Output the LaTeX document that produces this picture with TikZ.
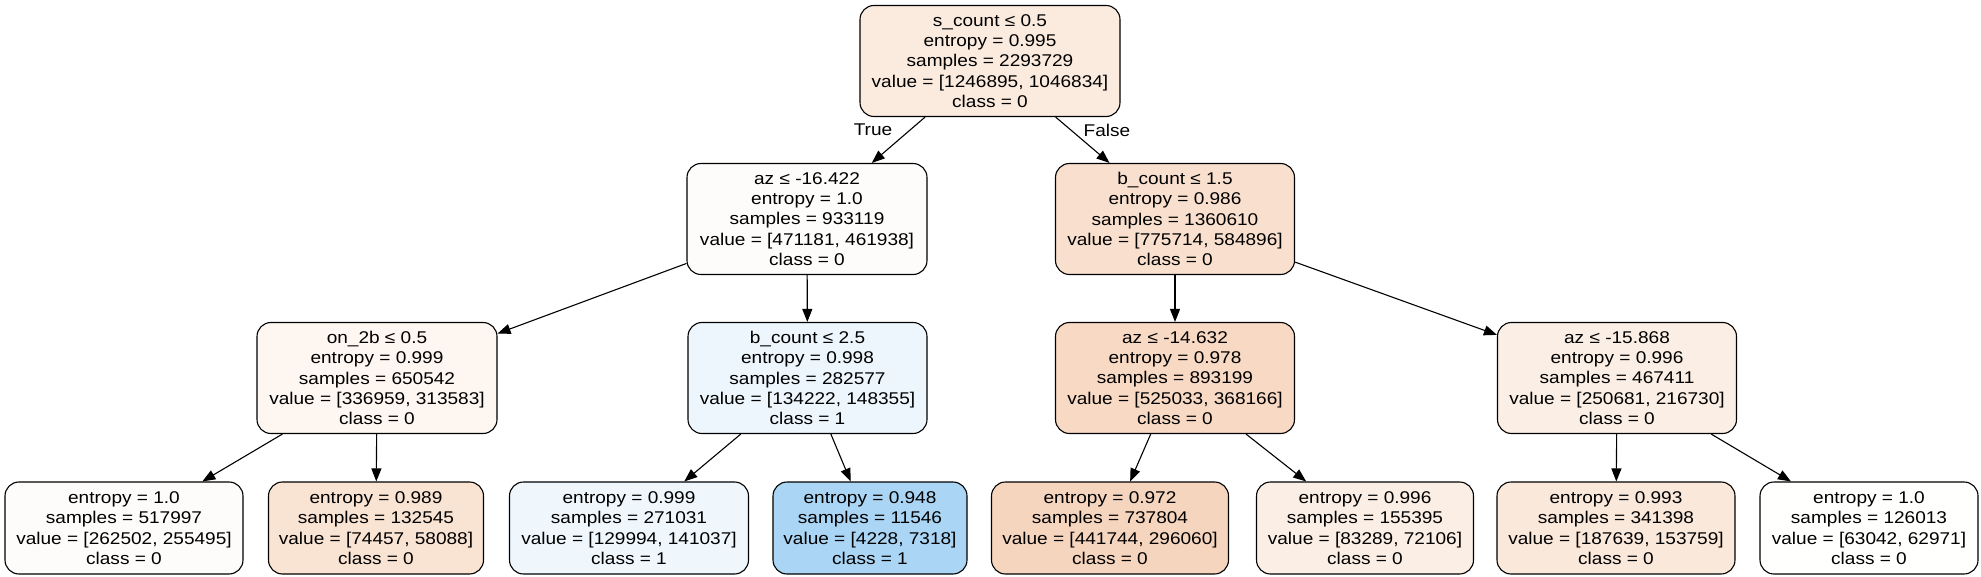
\documentclass[tikz,border=0pt]{standalone}
\usepackage{fontspec}
\setmainfont{Liberation Sans}[FakeStretch=1.12]
\usetikzlibrary{arrows.meta}
\definecolor{nRoot}{RGB}{251,235,223}
\definecolor{nA}{RGB}{254,252,251}
\definecolor{nB}{RGB}{249,224,206}
\definecolor{nC}{RGB}{253,246,241}
\definecolor{nD}{RGB}{236,246,252}
\definecolor{nE}{RGB}{247,217,196}
\definecolor{nF}{RGB}{251,238,228}
\definecolor{lA}{RGB}{254,252,250}
\definecolor{lB}{RGB}{249,227,211}
\definecolor{lC}{RGB}{239,247,253}
\definecolor{lD}{RGB}{171,213,244}
\definecolor{lE}{RGB}{246,213,190}
\definecolor{lF}{RGB}{251,238,228}
\definecolor{lG}{RGB}{250,232,219}
\definecolor{lH}{RGB}{255,255,254}
\begin{document}
\begin{tikzpicture}[x=1pt,y=-1pt,
  tn/.style={draw=black, line width=1.1pt, rounded corners=14pt, align=center,
    inner sep=0pt, font=\fontsize{17}{20.3}\selectfont},
  inode/.style={tn, minimum height=111pt},
  leaf/.style={tn, minimum height=92pt},
  edge/.style={line width=1.1pt, -{Triangle[length=13pt,width=10pt]}},
  lbl/.style={font=\fontsize{17}{20}\selectfont, inner sep=0pt}]
\useasboundingbox (0,0) rectangle (1981,577);

% root
\node[inode, fill=nRoot, minimum width=260pt] (root) at (990,61)
  {s\_count ≤ 0.5\\entropy = 0.995\\samples = 2293729\\value = [1246895, 1046834]\\class = 0};

% level 1
\node[inode, fill=nA, minimum width=240pt] (n1) at (807,219)
  {az ≤ -16.422\\entropy = 1.0\\samples = 933119\\value = [471181, 461938]\\class = 0};
\node[inode, fill=nB, minimum width=239pt] (n2) at (1175,219)
  {b\_count ≤ 1.5\\entropy = 0.986\\samples = 1360610\\value = [775714, 584896]\\class = 0};

% level 2
\node[inode, fill=nC, minimum width=240pt] (n3) at (377,378)
  {on\_2b ≤ 0.5\\entropy = 0.999\\samples = 650542\\value = [336959, 313583]\\class = 0};
\node[inode, fill=nD, minimum width=239pt] (n4) at (807.5,378)
  {b\_count ≤ 2.5\\entropy = 0.998\\samples = 282577\\value = [134222, 148355]\\class = 1};
\node[inode, fill=nE, minimum width=239pt] (n5) at (1175,378)
  {az ≤ -14.632\\entropy = 0.978\\samples = 893199\\value = [525033, 368166]\\class = 0};
\node[inode, fill=nF, minimum width=239pt] (n6) at (1617,378)
  {az ≤ -15.868\\entropy = 0.996\\samples = 467411\\value = [250681, 216730]\\class = 0};

% leaves
\node[leaf, fill=lA, minimum width=238pt] (f1) at (124,528)
  {entropy = 1.0\\samples = 517997\\value = [262502, 255495]\\class = 0};
\node[leaf, fill=lB, minimum width=215pt] (f2) at (376,528)
  {entropy = 0.989\\samples = 132545\\value = [74457, 58088]\\class = 0};
\node[leaf, fill=lC, minimum width=239pt] (f3) at (629,528)
  {entropy = 0.999\\samples = 271031\\value = [129994, 141037]\\class = 1};
\node[leaf, fill=lD, minimum width=194pt] (f4) at (870,528)
  {entropy = 0.948\\samples = 11546\\value = [4228, 7318]\\class = 1};
\node[leaf, fill=lE, minimum width=237pt] (f5) at (1110,528)
  {entropy = 0.972\\samples = 737804\\value = [441744, 296060]\\class = 0};
\node[leaf, fill=lF, minimum width=217pt] (f6) at (1365,528)
  {entropy = 0.996\\samples = 155395\\value = [83289, 72106]\\class = 0};
\node[leaf, fill=lG, minimum width=238pt] (f7) at (1616,528)
  {entropy = 0.993\\samples = 341398\\value = [187639, 153759]\\class = 0};
\node[leaf, fill=lH, minimum width=218pt] (f8) at (1869,528)
  {entropy = 1.0\\samples = 126013\\value = [63042, 62971]\\class = 0};

% edges
\draw[edge] (root) -- (n1);
\draw[edge] (root) -- (n2);
\draw[edge] (n1) -- (n3);
\draw[edge] (n1) -- (n4);
\draw[edge] (n2) -- (n5);
\draw[edge] (n2) -- (n6);
\draw[edge] (n3) -- (f1);
\draw[edge] (n3) -- (f2);
\draw[edge] (n4) -- (f3);
\draw[edge] (n4) -- (f4);
\draw[edge] (n5) -- (f5);
\draw[edge] (n5) -- (f6);
\draw[edge] (n6) -- (f7);
\draw[edge] (n6) -- (f8);

% edge labels
\node[lbl] (tlab) at (873,130) {True};
\node[lbl] (flab) at (1107,130) {False};
\end{tikzpicture}
\end{document}
